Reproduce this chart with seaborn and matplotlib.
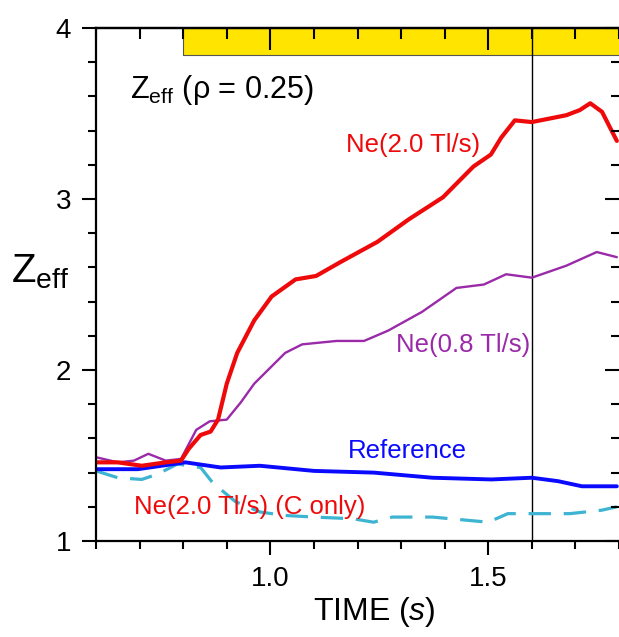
import numpy as np
import pandas as pd
import matplotlib
matplotlib.use("Agg")
import matplotlib.pyplot as plt
import seaborn as sns

# Zeff(rho=0.25) time traces
t_ne20 = [0.60, 0.65, 0.705, 0.76, 0.795, 0.813, 0.84, 0.863, 0.88, 0.90, 0.924, 0.963,
          1.003, 1.058, 1.105, 1.16, 1.246, 1.317, 1.396, 1.466, 1.506, 1.53, 1.561, 1.60,
          1.679, 1.71, 1.734, 1.761, 1.795]
z_ne20 = [1.46, 1.46, 1.44, 1.46, 1.47, 1.54, 1.62, 1.64, 1.71, 1.92, 2.10, 2.29,
          2.43, 2.53, 2.55, 2.63, 2.75, 2.88, 3.01, 3.19, 3.26, 3.36, 3.46, 3.45,
          3.49, 3.52, 3.56, 3.51, 3.34]

t_ne08 = [0.60, 0.65, 0.687, 0.72, 0.76, 0.795, 0.83, 0.861, 0.90, 0.932, 0.963, 1.034,
          1.073, 1.152, 1.215, 1.27, 1.348, 1.427, 1.49, 1.541, 1.60, 1.679, 1.749, 1.795]
z_ne08 = [1.49, 1.46, 1.47, 1.51, 1.47, 1.48, 1.65, 1.70, 1.71, 1.81, 1.92, 2.10,
          2.15, 2.17, 2.17, 2.23, 2.34, 2.48, 2.50, 2.56, 2.54, 2.61, 2.69, 2.66]

t_ref = [0.60, 0.696, 0.805, 0.886, 0.976, 1.10, 1.237, 1.372, 1.507, 1.60, 1.66, 1.715, 1.795]
z_ref = [1.42, 1.42, 1.46, 1.43, 1.44, 1.41, 1.40, 1.37, 1.36, 1.37, 1.35, 1.32, 1.32]

t_conly = [0.60, 0.65, 0.705, 0.74, 0.787, 0.84, 0.868, 0.92, 0.976, 1.03, 1.10, 1.19,
           1.237, 1.28, 1.372, 1.50, 1.545, 1.60, 1.687, 1.76, 1.795]
z_conly = [1.41, 1.37, 1.36, 1.39, 1.45, 1.43, 1.34, 1.23, 1.17, 1.15, 1.14, 1.13,
           1.11, 1.14, 1.14, 1.11, 1.16, 1.16, 1.16, 1.18, 1.20]

sns.set_style("ticks")
plt.rcParams['font.family'] = ['Liberation Sans', 'DejaVu Sans']
plt.rcParams['mathtext.fontset'] = 'custom'
plt.rcParams['mathtext.rm'] = 'Liberation Sans'
plt.rcParams['mathtext.it'] = 'Liberation Sans:italic'
plt.rcParams['text.color'] = 'black'
plt.rcParams['axes.labelcolor'] = 'black'
plt.rcParams['xtick.color'] = 'black'
plt.rcParams['ytick.color'] = 'black'
plt.rcParams['axes.edgecolor'] = 'black'

fig = plt.figure(figsize=(6.19, 6.37), dpi=100)
ax = fig.add_axes([0.1551, 0.1507, 0.8449, 0.8053])

# gas puff bar along the top
ax.fill_between([0.8, 1.85], 3.845, 4.0, color='#ffe400', edgecolor='#555555', lw=0.8, zorder=1)
ax.axvline(1.6, color='black', lw=1.0, zorder=1.5)

sns.lineplot(x=t_conly, y=z_conly, ax=ax, color='#3cb4d2', lw=2.3, linestyle=(0, (7, 4)), estimator=None)
sns.lineplot(x=t_ref, y=z_ref, ax=ax, color='#0a0aff', lw=2.8, estimator=None)
sns.lineplot(x=t_ne08, y=z_ne08, ax=ax, color='#9a2aa8', lw=1.7, estimator=None)
sns.lineplot(x=t_ne20, y=z_ne20, ax=ax, color='#ee0a0a', lw=3.0, estimator=None)

ax.set_xlim(0.6, 1.8)
ax.set_ylim(1, 4)
ax.set_xticks([1.0, 1.5])
ax.set_xticklabels(['1.0', '1.5'])
ax.set_xticks(np.arange(0.6, 1.81, 0.1), minor=True)
ax.set_yticks([1, 2, 3, 4])
ax.set_yticks(np.arange(1, 4.01, 0.2), minor=True)

ax.spines['right'].set_visible(False)
for s in ['left', 'bottom', 'top']:
    ax.spines[s].set_linewidth(1.6)
ax.tick_params(which='major', direction='out', length=10, width=1.5, labelsize=20, pad=8)
ax.tick_params(which='minor', direction='out', length=6, width=1.5)

top = ax.secondary_xaxis('top')
top.set_zorder(5)
top.set_xticks([1.0, 1.5])
top.set_xticks(np.arange(0.6, 1.81, 0.1), minor=True)
top.tick_params(which='major', direction='in', length=16, width=1.5, labeltop=False)
top.tick_params(which='minor', direction='in', length=8, width=1.5)
top.spines['top'].set_linewidth(1.6)

right = ax.secondary_yaxis('right')
right.set_zorder(5)
right.set_yticks([1, 2, 3, 4])
right.set_yticks(np.arange(1, 4.01, 0.2), minor=True)
right.tick_params(which='major', direction='in', length=10, width=1.5, labelright=False)
right.tick_params(which='minor', direction='in', length=6, width=1.5)
right.spines['right'].set_visible(False)

ax.set_xlabel('TIME ($\\it{s}$)', fontsize=23)
ax.xaxis.set_label_coords(0.533, -0.105)
ax.set_ylabel('')
fig.text(0.065, 0.573, '$\\mathrm{Z}_{\\mathrm{eff}}$', fontsize=29, ha='center', va='center')

ax.text(0.065, 0.879, '$\\mathrm{Z}_{\\mathrm{eff}}$ (\u03c1 = 0.25)', transform=ax.transAxes,
        fontsize=22, ha='left', va='center')
ax.text(0.606, 0.772, 'Ne(2.0 Tl/s)', transform=ax.transAxes, color='#ee0a0a',
        fontsize=18.5, ha='center', va='center')
ax.text(0.702, 0.382, 'Ne(0.8 Tl/s)', transform=ax.transAxes, color='#9a2aa8',
        fontsize=18.5, ha='center', va='center')
ax.text(0.595, 0.175, 'Reference', transform=ax.transAxes, color='#0a0aff',
        fontsize=18.5, ha='center', va='center')
ax.text(0.294, 0.066, 'Ne(2.0 Tl/s) (C only)', transform=ax.transAxes, color='#ee0a0a',
        fontsize=18.5, ha='center', va='center')

fig.savefig('out.png', dpi=100)
